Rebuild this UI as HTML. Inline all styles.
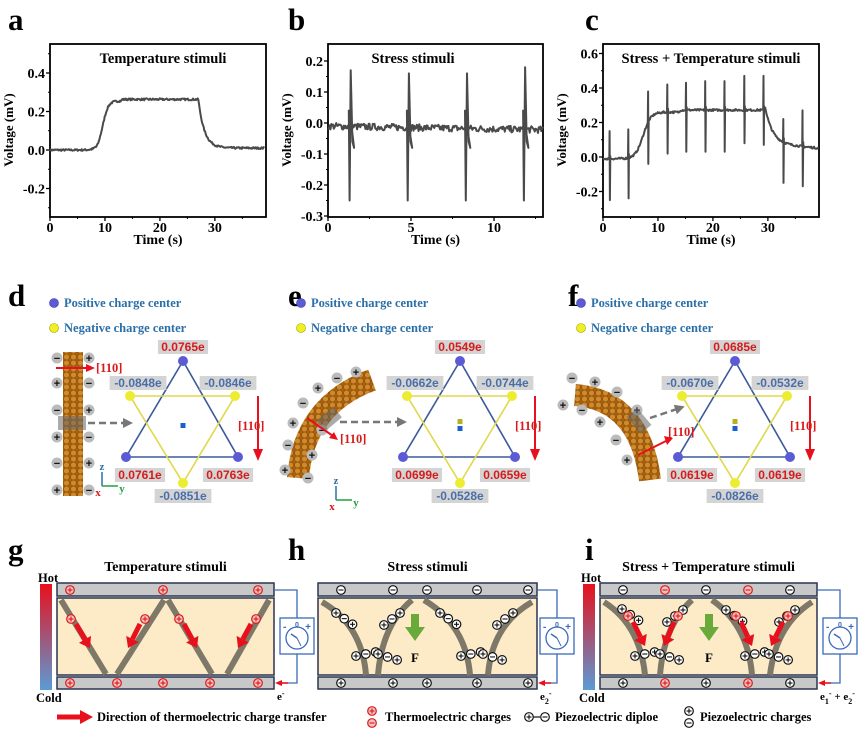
<!DOCTYPE html>
<html><head><meta charset="utf-8"><style>
html,body{margin:0;padding:0;background:#fff;}
svg{display:block;}
.t{font-family:"Liberation Serif",serif;font-weight:bold;}
.s{font-family:"Liberation Sans",sans-serif;font-weight:bold;}
</style></head><body>
<svg id="c" width="865" height="731" viewBox="0 0 865 731" xmlns="http://www.w3.org/2000/svg">
<defs>
<pattern id="atoms" width="7" height="6" patternUnits="userSpaceOnUse">
<rect width="7" height="6" fill="#a8620f"/>
<circle cx="3.5" cy="3" r="2.9" fill="#d08a2a" stroke="#8a4e0a" stroke-width="0.6"/>
</pattern>
<linearGradient id="hc" x1="0" y1="0" x2="0" y2="1"><stop offset="0" stop-color="#e8101c"/><stop offset="1" stop-color="#5b9bd5"/></linearGradient>
<marker id="ga" markerWidth="4" markerHeight="4" refX="2" refY="2" orient="auto" markerUnits="strokeWidth"><path d="M0,0 L4,2 L0,4 Z" fill="#777"/></marker>
</defs>
<g id="root"></g>
</svg>
<script>
var R=document.getElementById('root'),H='';
function add(s){H+=s;}
function txt(x,y,s,sz,fill,anchor,cls,extra){add('<text x="'+x+'" y="'+y+'" font-size="'+sz+'" fill="'+(fill||'#000')+'" text-anchor="'+(anchor||'start')+'" class="'+(cls||'t')+'" '+(extra||'')+'>'+s+'</text>');}
var seed=7;function rnd(){seed=(seed*16807)%2147483647;return seed/2147483647-0.5;}
function sig(t,a,b){return 1/(1+Math.exp(-(t-a)/b));}
function chart(o){
 var x0=o.x0,x1=o.x1,y0=44,y1=217;
 function X(t){return x0+(t-o.tmin)*(x1-x0)/(o.tmax-o.tmin);}
 function Y(v){return o.yz+(-v)*o.ypx;}
 add('<rect x="'+x0+'" y="'+y0+'" width="'+(x1-x0)+'" height="'+(y1-y0)+'" fill="none" stroke="#000" stroke-width="1.8"/>');
 o.yt.forEach(function(v){var y=Y(v);add('<line x1="'+x0+'" y1="'+y+'" x2="'+(x0-4)+'" y2="'+y+'" stroke="#000" stroke-width="1.3"/>');txt(x0-5,y+5,v.toFixed(1),14,'#000','end');});
 o.ym.forEach(function(v){var y=Y(v);add('<line x1="'+x0+'" y1="'+y+'" x2="'+(x0-2)+'" y2="'+y+'" stroke="#000"/>');});
 o.xt.forEach(function(v){var x=X(v);add('<line x1="'+x+'" y1="'+y1+'" x2="'+x+'" y2="'+(y1+4)+'" stroke="#000" stroke-width="1.3"/>');txt(x,y1+15,v,14,'#000','middle');});
 o.xm.forEach(function(v){var x=X(v);add('<line x1="'+x+'" y1="'+y1+'" x2="'+x+'" y2="'+(y1+2)+'" stroke="#000"/>');});
 txt((x0+x1)/2,244,'Time (s)',14,'#000','middle');
 txt(0,0,'Voltage (mV)',13,'#000','middle','t','transform="translate('+(x0-37)+',130) rotate(-90)"');
 txt(o.tx,63,o.title,14.5,'#000','middle');
 var d='';o.pts.forEach(function(p,i){var x=X(p[0]),y=Y(p[1]);if(y<y0)y=y0;if(y>y1)y=y1;d+=(i?'L':'M')+x.toFixed(1)+','+y.toFixed(1);});
 add('<path d="'+d+'" fill="none" stroke="#4a4a4a" stroke-width="2" stroke-linejoin="round"/>');
}
var pa=[];for(var t=0;t<=39;t+=0.12){var v;if(t<27)v=0.255*sig(t,9.6,0.5)+(t>13?0.008:0)+(t>8.4&&t<9?-0.005:0);else v=0.01+0.25*Math.exp(-(t-27)/1.1);v+=rnd()*0.01;pa.push([t,v]);}
chart({x0:50,x1:266,tmin:0,tmax:39.3,yz:150,ypx:192.5,yt:[0.4,0.2,0.0,-0.2],ym:[0.5,0.3,0.1,-0.1,-0.3],xt:[0,10,20,30],xm:[5,15,25,35],title:'Temperature stimuli',tx:163,pts:pa});
var pb=[],sp=[1.35,4.85,8.35,11.85],up=[0.17,0.16,0.16,0.18];
for(var t=0;t<=13;t+=0.05){var v=-0.01-0.012*t/13+rnd()*0.022;var sk=false;
 for(var k=0;k<4;k++){if(Math.abs(t-sp[k])<0.026){pb.push([sp[k]-0.1,0.04]);pb.push([sp[k]-0.05,-0.25]);pb.push([sp[k]+0.02,up[k]]);pb.push([sp[k]+0.12,-0.06]);pb.push([sp[k]+0.22,-0.08]);sk=true;}}
 if(!sk)pb.push([t,v]);}
chart({x0:328,x1:543,tmin:0,tmax:12.95,yz:123,ypx:310,yt:[0.2,0.1,0.0,-0.1,-0.2,-0.3],ym:[0.15,0.05,-0.05,-0.15,-0.25],xt:[0,5,10],xm:[2.5,7.5,12.5],title:'Stress stimuli',tx:413,pts:pb});
var pc=[],sc=[1.2,4.6,8.2,11.7,15.1,18.6,22.1,25.7,29.2,32.8,36.3],uc=[0.15,0.16,0.38,0.42,0.43,0.44,0.44,0.47,0.47,0.22,0.27],dc=[-0.25,-0.24,-0.04,0.02,0.03,0.03,0.03,0.08,0.07,-0.15,-0.17];
for(var t=0;t<=39.3;t+=0.12){var b;if(t<29.5)b=-0.01+0.27*sig(t,7.3,0.7)+(t>14&&t<29.5?0.012:0);else b=0.07+0.21*Math.exp(-(t-29.5)/1.3)-0.003*(t-33);b+=rnd()*0.012;var sk=false;
 for(var k=0;k<sc.length;k++){if(Math.abs(t-sc[k])<0.061){pc.push([sc[k]-0.05,b]);pc.push([sc[k],uc[k]]);pc.push([sc[k]+0.05,dc[k]]);pc.push([sc[k]+0.12,b+0.02]);sk=true;}}
 if(!sk)pc.push([t,b]);}
chart({x0:603,x1:819,tmin:0,tmax:39.3,yz:157,ypx:172.5,yt:[0.6,0.4,0.2,0.0,-0.2],ym:[0.5,0.3,0.1,-0.1,-0.3],xt:[0,10,20,30],xm:[5,15,25,35],title:'Stress + Temperature stimuli',tx:711,pts:pc});
txt(8,30,'a',31,'#000');txt(288,30,'b',31,'#000');txt(585,30,'c',31,'#000');
txt(8,306,'d',31,'#000');txt(288,306,'e',31,'#000');txt(568,306,'f',31,'#000');
function legend(x){add('<circle cx="'+x+'" cy="303" r="4.5" fill="#5b5bd6" stroke="#3a3aa0" stroke-width="0.6"/>');txt(x+10,307,'Positive charge center',12.5,'#2a6fa8');
 add('<circle cx="'+x+'" cy="328" r="4.5" fill="#f0f020" stroke="#a0a000" stroke-width="0.6"/>');txt(x+10,332,'Negative charge center',12.5,'#2a6fa8');}
legend(54);legend(301);legend(581);
function lab(x,y,s,col,bg){var w=s.length*6.6+4;add('<rect x="'+(x-w/2)+'" y="'+(y-11)+'" width="'+w+'" height="14" fill="'+bg+'"/>');txt(x,y,s,12,col,'middle','s');}
function star(cx,L,sq){
 var tp=[cx,361],bl=[cx-57,457],br=[cx+55,457],tl=[cx-53,396],tr=[cx+52,396],bt=[cx,483];
 add('<polygon points="'+tp+' '+bl+' '+br+'" fill="none" stroke="#3c5a9a" stroke-width="1.6"/>');
 add('<polygon points="'+tl+' '+tr+' '+bt+'" fill="none" stroke="#e0d84a" stroke-width="1.6"/>');
 [tp,bl,br].forEach(function(p){add('<circle cx="'+p[0]+'" cy="'+p[1]+'" r="5" fill="#5b5bd6"/>');});
 [tl,tr,bt].forEach(function(p){add('<circle cx="'+p[0]+'" cy="'+p[1]+'" r="5" fill="#ecec30"/>');});
 if(sq==1)add('<rect x="'+(cx-2.5)+'" y="423" width="5" height="5" fill="#1a5fd0"/>');
 else{add('<rect x="'+(cx-2.5)+'" y="419" width="5" height="5" fill="#b8b020"/>');add('<rect x="'+(cx-2.5)+'" y="426" width="5" height="5" fill="#1a5fd0"/>');}
 lab(cx,351,L[0],'#d81a1a','#d4d4d4');lab(cx-45,387,L[1],'#4a6fa8','#d4d4d4');lab(cx+45,387,L[2],'#4a6fa8','#d4d4d4');
 lab(cx-43,479,L[3],'#d81a1a','#d4d4d4');lab(cx+45,479,L[4],'#d81a1a','#d4d4d4');lab(cx,500,L[5],'#4a6fa8','#d4d4d4');
 add('<line x1="'+(cx+75)+'" y1="396" x2="'+(cx+75)+'" y2="450" stroke="#e8101c" stroke-width="2"/><path d="M'+(cx+70)+',449 L'+(cx+80)+',449 L'+(cx+75)+',461 Z" fill="#e8101c"/>');
 txt(cx+55,430,'[110]',12.5,'#d81a1a','start');
}
star(183,['0.0765e','-0.0848e','-0.0846e','0.0761e','0.0763e','-0.0851e'],1);
star(460,['0.0549e','-0.0662e','-0.0744e','0.0699e','0.0659e','-0.0528e'],2);
star(735,['0.0685e','-0.0670e','-0.0532e','0.0619e','0.0619e','-0.0826e'],2);
function pm(x,y,p){add('<circle cx="'+x+'" cy="'+y+'" r="5.5" fill="#bbb"/><text x="'+x+'" y="'+(y+4)+'" font-size="11" text-anchor="middle" class="s" fill="#111">'+(p?'+':'−')+'</text>');}
function axes(x,y){add('<line x1="'+x+'" y1="'+y+'" x2="'+x+'" y2="'+(y-14)+'" stroke="#2a6fa8" stroke-width="1.5"/><line x1="'+x+'" y1="'+y+'" x2="'+(x+16)+'" y2="'+y+'" stroke="#20a040" stroke-width="1.5"/>');txt(x,y-16,'z',11,'#2a6fa8','middle');txt(x-4,y+10,'x',11,'#d81a1a','middle');txt(x+20,y+6,'y',11,'#20a040','middle');}
add('<rect x="63" y="352" width="20" height="144" fill="url(#atoms)"/>');
[[57,358,0],[89,358,1],[57,383,1],[89,383,0],[57,410,0],[89,410,1],[57,437,1],[89,437,0],[57,463,0],[89,463,1],[57,490,1],[89,490,0]].forEach(function(a){pm(a[0],a[1],a[2]);});
add('<rect x="58" y="416" width="28" height="14" fill="#666" opacity="0.55"/>');
add('<line x1="88" y1="423" x2="128" y2="423" stroke="#777" stroke-width="2.5" stroke-dasharray="7,4" marker-end="url(#ga)"/>');
add('<line x1="56" y1="368" x2="88" y2="368" stroke="#e8101c" stroke-width="2"/><path d="M86,364 L95,368 L86,372Z" fill="#e8101c"/>');txt(96,372,'[110]',12.5,'#d81a1a');
axes(102,486);
add('<path d="M298,478 Q304,405 372,380" fill="none" stroke="url(#atoms)" stroke-width="22"/>');
[[285,470,1],[288,445,0],[293,423,1],[303,403,0],[318,388,1],[337,378,0],[356,372,1],[308,478,0],[312,455,1],[322,430,0]].forEach(function(a){pm(a[0],a[1],a[2]);});
add('<rect x="318" y="412" width="22" height="14" fill="#666" opacity="0.55" transform="rotate(-40 329 419)"/>');
add('<line x1="340" y1="422" x2="402" y2="422" stroke="#777" stroke-width="2.5" stroke-dasharray="7,4" marker-end="url(#ga)"/>');
add('<line x1="307" y1="418" x2="333" y2="436" stroke="#e8101c" stroke-width="2"/><path d="M329,438 L338,440 L334,432Z" fill="#e8101c"/>');txt(340,443,'[110]',12.5,'#d81a1a');
axes(336,500);
add('<path d="M575,395 Q640,400 650,480" fill="none" stroke="url(#atoms)" stroke-width="22"/>');
[[572,378,0],[595,382,1],[617,392,0],[637,410,1],[563,405,1],[582,410,0],[600,422,1],[616,440,0],[627,460,1]].forEach(function(a){pm(a[0],a[1],a[2]);});
add('<rect x="628" y="414" width="22" height="14" fill="#666" opacity="0.55" transform="rotate(50 639 421)"/>');
add('<line x1="650" y1="418" x2="680" y2="408" stroke="#777" stroke-width="2.5" stroke-dasharray="7,4" marker-end="url(#ga)"/>');
add('<line x1="638" y1="455" x2="668" y2="440" stroke="#e8101c" stroke-width="2"/><path d="M664,436 L673,438 L667,445Z" fill="#e8101c"/>');txt(668,436,'[110]',12.5,'#d81a1a');
txt(8,560,'g',31,'#000');txt(288,560,'h',31,'#000');txt(585,560,'i',31,'#000');
function chg(x,y,red,p){var c=red?'#d81a1a':'#111';add('<circle cx="'+x+'" cy="'+y+'" r="4.3" fill="'+(red?'#f4c0c0':'#fff')+'" stroke="'+c+'" stroke-width="1.2"/><line x1="'+(x-2.5)+'" y1="'+y+'" x2="'+(x+2.5)+'" y2="'+y+'" stroke="'+c+'" stroke-width="1.1"/>'+(p?'<line x1="'+x+'" y1="'+(y-2.5)+'" x2="'+x+'" y2="'+(y+2.5)+'" stroke="'+c+'" stroke-width="1.1"/>':''));}
function panel(x0,x1,title,hc,meterX,elab){
 txt((x0+x1)/2,571,title,14,'#000','middle');
 if(hc){add('<rect x="'+(x0-17)+'" y="584" width="12" height="106" fill="url(#hc)"/>');txt(x0-19,582,'Hot',12.5,'#000','start');txt(x0-21,702,'Cold',12.5,'#000','start');}
 add('<rect x="'+x0+'" y="583" width="'+(x1-x0)+'" height="13" fill="#c8c8c8" stroke="#2a3550" stroke-width="1.5"/>');
 add('<rect x="'+x0+'" y="598" width="'+(x1-x0)+'" height="77" fill="#fdebc8" stroke="#2a3550" stroke-width="1.5"/>');
 add('<rect x="'+x0+'" y="677" width="'+(x1-x0)+'" height="12" fill="#c8c8c8" stroke="#2a3550" stroke-width="1.5"/>');
 var mx=meterX,cx=mx+17;
 add('<path d="M'+x1+',590 L'+cx+',590 L'+cx+',618 M'+cx+',654 L'+cx+',683 L'+(x1+8)+',683" fill="none" stroke="#3a6ab8" stroke-width="1.3"/>');
 add('<path d="M'+(x1+1)+',683 L'+(x1+8)+',680 L'+(x1+8)+',686Z" fill="#e8101c"/><line x1="'+(x1+8)+'" y1="683" x2="'+(x1+14)+'" y2="683" stroke="#e8101c" stroke-width="1.5"/>');
 add('<rect x="'+mx+'" y="618" width="34" height="36" fill="#fff" stroke="#3a6ab8" stroke-width="1.3"/><circle cx="'+cx+'" cy="638" r="11" fill="#fff" stroke="#3a6ab8" stroke-width="1.3"/><line x1="'+cx+'" y1="638" x2="'+(cx-6)+'" y2="634" stroke="#3a6ab8" stroke-width="1.5"/><line x1="'+cx+'" y1="638" x2="'+(cx+4)+'" y2="646" stroke="#3a6ab8"/>');
 txt(mx+3,630,'-',10,'#3a6ab8','start','s');txt(mx+31,630,'+',10,'#3a6ab8','end','s');txt(cx,627,'0',7,'#3a6ab8','middle','s');
 txt(x1+3,700,elab,11,'#000','start');
}
function bar(d){add('<path d="'+d+'" fill="none" stroke="#7d7868" stroke-width="6"/>');}
function rarrow(x1,y1,x2,y2){var dx=x2-x1,dy=y2-y1,l=Math.sqrt(dx*dx+dy*dy),ux=dx/l,uy=dy/l;var bx=x2-ux*10,by=y2-uy*10;
 add('<line x1="'+x1+'" y1="'+y1+'" x2="'+bx+'" y2="'+by+'" stroke="#e8101c" stroke-width="5"/><path d="M'+x2+','+y2+' L'+(bx-uy*7)+','+(by+ux*7)+' L'+(bx+uy*7)+','+(by-ux*7)+'Z" fill="#e8101c"/>');}
function dip(x,y,n,ang){for(var i=0;i<n;i++){var px=x+i*10*Math.cos(ang),py=y+i*10*Math.sin(ang);chg(px,py,false,i%2==0);}}
panel(57,274,'Temperature stimuli',true,280,'e<tspan font-size="8" dy="-4">-</tspan>');
bar('M61,600 L106,674');bar('M117,674 L164,600');bar('M168,600 L212,674');bar('M227,674 L269,600');
[[70,590],[163,590],[258,590],[70,683],[117,683],[163,683],[210,683],[258,683]].forEach(function(p){chg(p[0],p[1],true,true);});
[[71,619],[145,619],[179,619],[256,619]].forEach(function(p){chg(p[0],p[1],true,true);});
rarrow(76,624,90,648);rarrow(140,624,128,648);rarrow(184,624,197,648);rarrow(251,624,238,648);
panel(318,537,'Stress stimuli',false,540,'e<tspan font-size="8" dy="4">2</tspan><tspan font-size="8" dy="-8">-</tspan>');
bar('M322,602 Q362,625 366,675');bar('M412,600 Q382,625 378,675');bar('M424,600 Q466,625 470,675');bar('M532,602 Q492,625 488,675');
[341,393,427,477,528].forEach(function(x){chg(x,590,false,false);chg(x,683,false,true);});
dip(336,613,3,0.6);dip(400,613,3,2.5);dip(440,613,3,0.6);dip(513,613,3,2.5);
dip(356,656,3,-0.2);dip(378,654,3,0.3);dip(461,656,3,-0.2);dip(483,654,3,0.3);
add('<rect x="411" y="614" width="8" height="14" fill="#6aaa3a"/><path d="M405,627 L425,627 L415,641Z" fill="#6aaa3a"/>');txt(415,662,'F',13,'#000','middle');
panel(600,817,'Stress + Temperature stimuli',true,823,'e<tspan font-size="8" dy="4">1</tspan><tspan font-size="8" dy="-8">-</tspan><tspan dy="4"> + e</tspan><tspan font-size="8" dy="4">2</tspan><tspan font-size="8" dy="-8">-</tspan>');
bar('M604,602 Q640,625 645,675');bar('M692,600 Q664,625 660,675');bar('M712,600 Q748,625 752,675');bar('M812,602 Q776,625 770,675');
[[623,0],[665,1],[706,0],[748,1],[790,0]].forEach(function(a){chg(a[0],590,a[1],false);chg(a[0],683,a[1],true);});
dip(622,609,3,0.6);dip(683,610,3,2.5);dip(726,610,3,0.6);dip(795,610,3,2.5);
dip(635,656,3,-0.2);dip(660,654,3,0.3);dip(745,656,3,-0.2);dip(769,654,3,0.3);
[[628,616],[678,616],[736,616],[788,616]].forEach(function(p){chg(p[0],p[1],true,true);});
rarrow(633,622,645,646);rarrow(674,622,664,646);rarrow(741,622,752,646);rarrow(783,622,771,646);
add('<rect x="705" y="614" width="8" height="14" fill="#6aaa3a"/><path d="M699,627 L719,627 L709,641Z" fill="#6aaa3a"/>');txt(709,662,'F',13,'#000','middle');
add('<line x1="57" y1="717" x2="82" y2="717" stroke="#e8101c" stroke-width="5"/><path d="M80,710 L93,717 L80,724Z" fill="#e8101c"/>');
txt(97,721,'Direction of thermoelectric charge transfer',12.5,'#000');
chg(372,711,true,true);chg(372,723,true,false);txt(385,721,'Thermoelectric charges',12.5,'#000');
chg(529,717,false,true);add('<line x1="533" y1="717" x2="540" y2="717" stroke="#111" stroke-width="1.2"/>');chg(545,717,false,false);
txt(555,721,'Piezoelectric diploe',12.5,'#000');
chg(689,711,false,true);chg(689,723,false,false);txt(700,721,'Piezoelectric charges',12.5,'#000');
R.innerHTML=H;
</script>
</body></html>
